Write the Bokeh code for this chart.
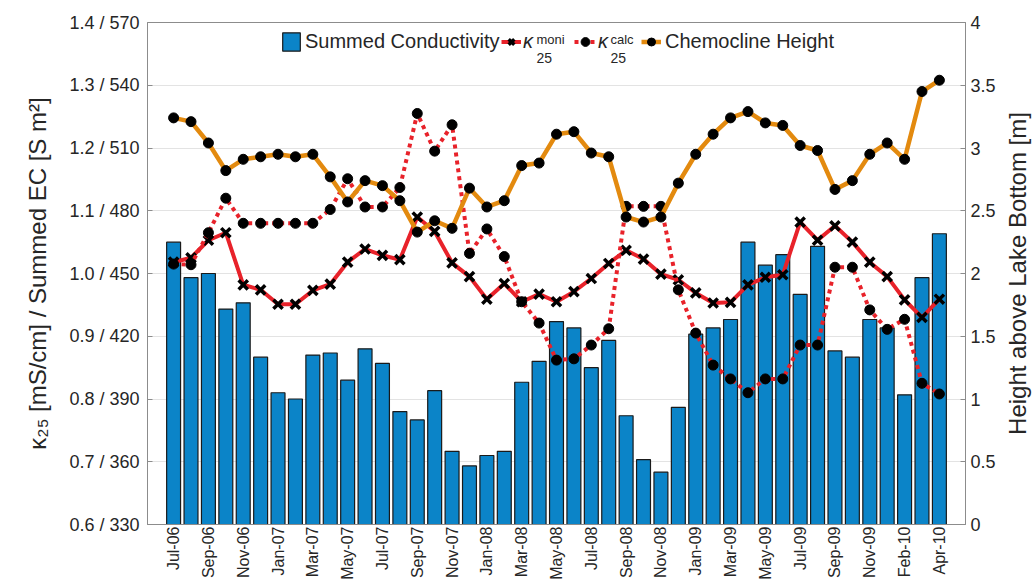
import math
from bokeh.plotting import figure
from bokeh.models import (Range1d, LinearAxis, FixedTicker, Legend, LegendItem,
                          Label, ColumnDataSource)
from bokeh.embed import file_html
from bokeh.resources import INLINE

# ---------------- data ----------------
months = ["Jul-06", "Aug-06", "Sep-06", "Oct-06", "Nov-06", "Dec-06",
          "Jan-07", "Feb-07", "Mar-07", "Apr-07", "May-07", "Jun-07",
          "Jul-07", "Aug-07", "Sep-07", "Oct-07", "Nov-07", "Dec-07",
          "Jan-08", "Feb-08", "Mar-08", "Apr-08", "May-08", "Jun-08",
          "Jul-08", "Aug-08", "Sep-08", "Oct-08", "Nov-08", "Dec-08",
          "Jan-09", "Feb-09", "Mar-09", "Apr-09", "May-09", "Jun-09",
          "Jul-09", "Aug-09", "Sep-09", "Oct-09", "Nov-09", "Dec-09",
          "Feb-10", "Mar-10", "Apr-10"]

ec_sum = [465, 448, 450, 433, 436, 410, 393, 390, 411, 412, 399, 414,
          407, 384, 380, 394, 365, 358, 363, 365, 398, 408, 427, 424,
          405, 418, 382, 361, 355, 386, 421, 424, 428, 465, 454, 459,
          440, 463, 413, 410, 428, 424, 392, 448, 469]

kappa_moni = [1.018, 1.025, 1.053, 1.065, 0.982, 0.974, 0.951, 0.951, 0.973,
              0.983, 1.018, 1.039, 1.029, 1.022, 1.090, 1.067, 1.017, 0.995,
              0.959, 0.984, 0.955, 0.967, 0.955, 0.971, 0.992, 1.016, 1.037,
              1.023, 0.999, 0.990, 0.969, 0.953, 0.954, 0.982, 0.994, 0.998,
              1.082, 1.053, 1.076, 1.050, 1.018, 0.995, 0.958, 0.930, 0.959]

kappa_calc = [1.015, 1.014, 1.065, 1.120, 1.080, 1.080, 1.080, 1.080, 1.080,
              1.102, 1.151, 1.106, 1.106, 1.137, 1.255, 1.195, 1.237, 1.032,
              1.071, 1.027, 0.955, 0.921, 0.862, 0.864, 0.886, 0.912, 1.107,
              1.107, 1.107, 0.974, 0.905, 0.854, 0.832, 0.810, 0.832, 0.832,
              0.886, 0.886, 1.010, 1.010, 0.942, 0.911, 0.927, 0.825, 0.808]

chemocline = [3.24, 3.21, 3.04, 2.82, 2.91, 2.93, 2.95, 2.93, 2.95, 2.77,
              2.57, 2.74, 2.70, 2.58, 2.33, 2.42, 2.36, 2.68, 2.53, 2.58,
              2.86, 2.88, 3.11, 3.13, 2.96, 2.93, 2.45, 2.41, 2.45, 2.72,
              2.95, 3.11, 3.24, 3.29, 3.20, 3.18, 3.02, 2.98, 2.67, 2.74,
              2.95, 3.04, 2.91, 3.45, 3.54]

kappa_ticks = [0.6, 0.7, 0.8, 0.9, 1.0, 1.1, 1.2, 1.3, 1.4]
ec_ticks = [330, 360, 390, 420, 450, 480, 510, 540, 570]
height_ticks = [0, 0.5, 1, 1.5, 2, 2.5, 3, 3.5, 4]

# ---------------- styles ----------------
FONT = "Liberation Sans"
TXT = "#262626"
AXC = "#8c8c8c"
BLUE = "#0b84c8"
RED = "#e8222a"
ORANGE = "#e38a0f"

x = list(range(1, len(months) + 1))
src = ColumnDataSource(dict(x=x, month=months, ec=ec_sum, moni=kappa_moni,
                            calc=kappa_calc, chemo=chemocline))

p = figure(width=1032, height=582, output_backend="svg", toolbar_location=None,
           x_range=Range1d(-0.5, len(months) + 1.5),
           y_range=Range1d(kappa_ticks[0], kappa_ticks[-1]),
           min_border_left=147, min_border_right=67,
           min_border_top=22, min_border_bottom=57)
p.extra_y_ranges = {"ec": Range1d(ec_ticks[0], ec_ticks[-1]),
                    "h": Range1d(height_ticks[0], height_ticks[-1])}
p.background_fill_color = "white"
p.border_fill_color = "white"
p.outline_line_color = AXC
p.outline_line_width = 1

# grid
p.ygrid.ticker = FixedTicker(ticks=kappa_ticks)
p.ygrid.grid_line_color = "#e3e3e3"
p.ygrid.grid_line_width = 1
p.xgrid.visible = False

# glyphs
bars = p.vbar(x="x", top="ec", bottom=ec_ticks[0], width=0.8, source=src,
              y_range_name="ec", fill_color=BLUE, line_color="#1a1a1a",
              line_width=1.2)
moni_l = p.line("x", "moni", source=src, line_color=RED, line_width=4)
moni_m = p.scatter("x", "moni", source=src, marker="x", size=13,
                   line_color="black", line_width=3.5)
calc_l = p.line("x", "calc", source=src, line_color=RED, line_width=4,
                line_dash="4 4")
calc_m = p.scatter("x", "calc", source=src, marker="circle", size=10,
                   fill_color="black", line_color="black")
chemo_l = p.line("x", "chemo", source=src, y_range_name="h",
                 line_color=ORANGE, line_width=4.5)
chemo_m = p.scatter("x", "chemo", source=src, y_range_name="h",
                    marker="circle", size=10, fill_color="black",
                    line_color="black")


def style_axis(ax, tick_in=5):
    ax.axis_line_color = AXC
    ax.major_tick_line_color = AXC
    ax.major_tick_in = tick_in
    ax.major_tick_out = 0
    ax.minor_tick_line_color = None
    ax.major_label_text_font = FONT
    ax.major_label_text_font_size = "18px"
    ax.major_label_text_color = TXT
    ax.axis_label_text_font = FONT
    ax.axis_label_text_font_size = "24px"
    ax.axis_label_text_font_style = "normal"
    ax.axis_label_text_color = TXT


# bottom axis: month labels, every second month
xa = p.xaxis[0]
xa.ticker = FixedTicker(ticks=x[::2])
xa.major_label_overrides = {xi: m for xi, m in zip(x[::2], months[::2])}
style_axis(xa, tick_in=0)
xa.major_label_text_font_size = "16px"
xa.major_label_orientation = math.pi / 2
xa.major_label_standoff = 2

# left axis
la = p.yaxis[0]
la.ticker = FixedTicker(ticks=kappa_ticks)
la.major_label_overrides = {k: f"{k:.1f} / {e}" for k, e in zip(kappa_ticks, ec_ticks)}
la.axis_label = "κ₂₅ [mS/cm] / Summed EC [S m²]"
style_axis(la)
la.major_label_standoff = 8
la.axis_label_standoff = 15

# right axis
ra = LinearAxis(y_range_name="h", ticker=FixedTicker(ticks=height_ticks))
ra.major_label_overrides = {t: f"{t:g}" for t in height_ticks}
style_axis(ra)
ra.major_label_standoff = 5
p.add_layout(ra, "right")

right_title = Label(x=19, y=251, x_units="screen", y_units="screen",
                    text="Height above Lake Bottom [m]", angle=math.pi / 2,
                    text_align="center", text_baseline="middle",
                    text_font=FONT, text_font_size="24px", text_color=TXT)
p.add_layout(right_title, "right")

# legend (one Legend per entry for exact placement)
LEG_Y = 471


def add_legend(label, renderers, lx, gw, standoff, style="normal"):
    lg = Legend(items=[LegendItem(label=label, renderers=renderers)],
                location=(lx, LEG_Y), orientation="horizontal",
                glyph_width=gw, glyph_height=23, label_standoff=standoff,
                padding=0, margin=0, spacing=0, label_height=23,
                border_line_alpha=0, background_fill_alpha=0,
                label_text_font=FONT, label_text_font_size="20px",
                label_text_font_style=style, label_text_color=TXT)
    p.add_layout(lg)


add_legend("Summed Conductivity", [bars], 133, 22, 3)
add_legend("κ", [moni_l, moni_m], 354, 20, 2, "italic")
add_legend("κ", [calc_l, calc_m], 427, 22, 2, "italic")
add_legend("Chemocline Height", [chemo_l, chemo_m], 494, 20, 4)


def add_script(text, lx, ly, size):
    p.add_layout(Label(x=lx, y=ly, x_units="screen", y_units="screen", text=text,
                       text_font=FONT, text_font_size=size, text_color=TXT,
                       text_baseline="alphabetic", text_align="left"))


add_script("moni", 389, 485, "13px")
add_script("25", 389, 467, "14px")
add_script("calc", 463, 485, "13px")
add_script("25", 463, 467, "14px")

open("out.html", "w").write(file_html(p, INLINE))
